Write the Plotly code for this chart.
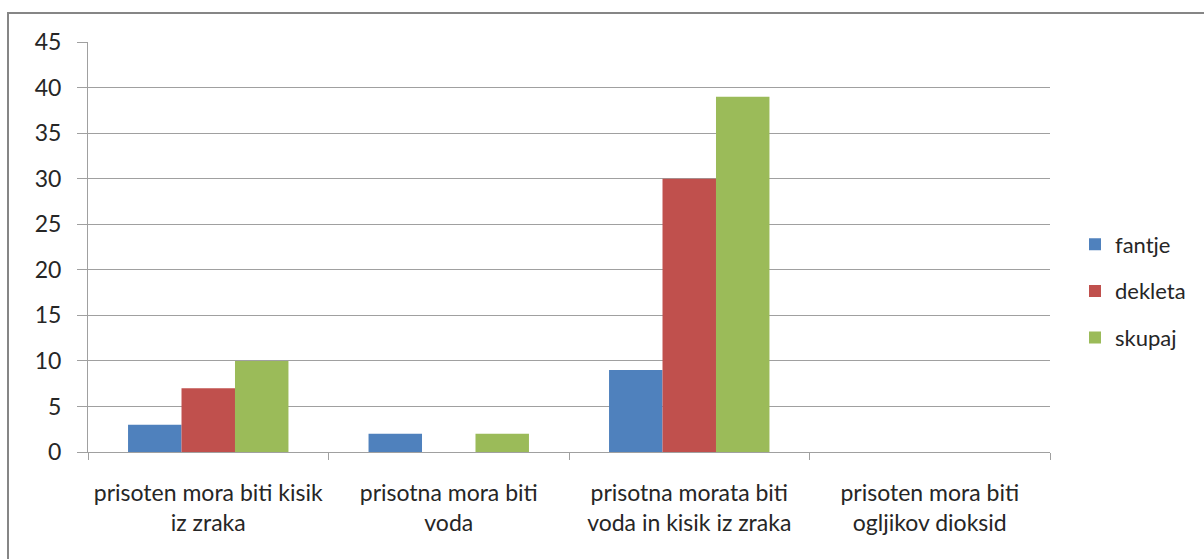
import plotly.graph_objects as go

categories = [
    "prisoten mora biti kisik<br>iz zraka",
    "prisotna mora biti<br>voda",
    "prisotna morata biti<br>voda in kisik iz zraka",
    "prisoten mora biti<br>ogljikov dioksid",
]
series_names = ["fantje", "dekleta", "skupaj"]
fantje = [3, 2, 9, 0]
dekleta = [7, 0, 30, 0]
skupaj = [10, 2, 39, 0]
colors = ["#4F81BD", "#C0504D", "#9BBB59"]
y_ticks = [0, 5, 10, 15, 20, 25, 30, 35, 40, 45]

fig = go.Figure()
for i, (name, vals) in enumerate(zip(series_names, [fantje, dekleta, skupaj])):
    fig.add_trace(go.Bar(
        x=categories, y=vals, name=name,
        marker=dict(color=colors[i], line=dict(width=0)),
        legendgroup=name,
    ))

font_family = "Lato, Open Sans, sans-serif"
fig.update_layout(
    width=1204, height=559,
    margin=dict(l=88, r=154, t=42, b=107, autoexpand=False),
    paper_bgcolor="white", plot_bgcolor="white",
    barmode="group", bargap=0.333, bargroupgap=0,
    font=dict(family=font_family, size=23, color="#262626"),
    legend=dict(
        x=(1075 - 88) / 962, y=(452 - 291) / 410, xanchor="left", yanchor="middle",
        font=dict(size=22, color="#262626"),
        traceorder="grouped", tracegroupgap=15,
        itemwidth=30,
    ),
    showlegend=True,
)
fig.update_xaxes(
    showline=True, linecolor="#A0A0A0", linewidth=1,
    ticks="outside", ticklen=7, tickcolor="#A0A0A0", tickson="boundaries",
    showgrid=False, tickfont=dict(size=23, color="#262626"),
    ticklabelstandoff=20,
    fixedrange=True,
)
fig.update_yaxes(
    range=[0, 45], tickvals=y_ticks,
    showline=True, linecolor="#A0A0A0", linewidth=1,
    ticks="outside", ticklen=10, tickcolor="#A0A0A0",
    showgrid=True, gridcolor="#A0A0A0", gridwidth=1,
    zeroline=False, tickfont=dict(size=23, color="#262626"),
    ticklabelstandoff=11,
    fixedrange=True,
)
# chart frame (top and left edges visible)
fig.add_shape(type="rect", xref="paper", yref="paper",
              x0=(8 - 88) / 962, x1=1.3, y0=-0.5, y1=(452 - 13) / 410,
              line=dict(color="#868686", width=2), fillcolor="rgba(0,0,0,0)",
              layer="below")

fig.write_html("out.html")
